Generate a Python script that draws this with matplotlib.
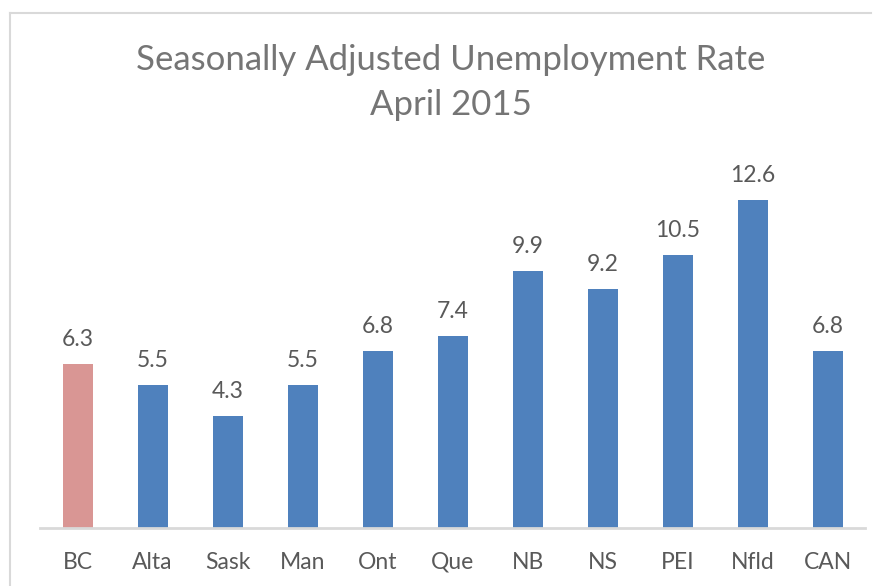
import matplotlib
matplotlib.use("Agg")
import matplotlib.pyplot as plt
from matplotlib.lines import Line2D

categories = ["BC", "Alta", "Sask", "Man", "Ont", "Que", "NB", "NS", "PEI", "Nfld", "CAN"]
rates = [6.3, 5.5, 4.3, 5.5, 6.8, 7.4, 9.9, 9.2, 10.5, 12.6, 6.8]
title_lines = ["Seasonally Adjusted Unemployment Rate", "April 2015"]

FONT = "Lato"
plt.rcParams["font.family"] = [FONT, "DejaVu Sans"]

W, H = 880, 586
fig = plt.figure(figsize=(W / 100, H / 100), dpi=100)
fig.patch.set_facecolor("white")

# axes area in pixels
x0, x1 = 40, 865
y_base, y_top = 528, 164
ax = fig.add_axes([x0 / W, (H - y_base) / H, (x1 - x0) / W, (y_base - y_top) / H])

colors = ["#D99694"] + ["#4F81BD"] * (len(categories) - 1)
xs = list(range(len(categories)))
ax.bar(xs, rates, width=0.4, color=colors, zorder=2)
ax.set_xlim(-0.5, len(categories) - 0.5)
ax.set_ylim(0, 14)

for x, v in zip(xs, rates):
    ax.annotate(f"{v:.1f}", (x, v), xytext=(0, 13), textcoords="offset points",
                ha="center", va="baseline", fontsize=16.5, color="#595959")

ax.set_xticks(xs)
ax.set_xticklabels(categories, fontsize=16.5, color="#595959")
ax.tick_params(axis="x", length=0, pad=17)
ax.set_yticks([])
for s in ["top", "right", "left"]:
    ax.spines[s].set_visible(False)
ax.spines["bottom"].set_color("#D9D9D9")
ax.spines["bottom"].set_linewidth(2)
ax.spines["bottom"].set_zorder(3)

# chart border (left and top)
fig.add_artist(Line2D([10 / W, 10 / W], [0, 1 - 13 / H], transform=fig.transFigure, color="#D9D9D9", lw=1.5))
fig.add_artist(Line2D([10 / W, 871 / W], [1 - 13 / H, 1 - 13 / H], transform=fig.transFigure, color="#D9D9D9", lw=1.5))

fig.text(451 / W, 1 - 60 / H, title_lines[0], ha="center", va="center", fontsize=25, color="#757575")
fig.text(451 / W, 1 - 105 / H, title_lines[1], ha="center", va="center", fontsize=25, color="#757575")

fig.savefig("out.png", dpi=100)
